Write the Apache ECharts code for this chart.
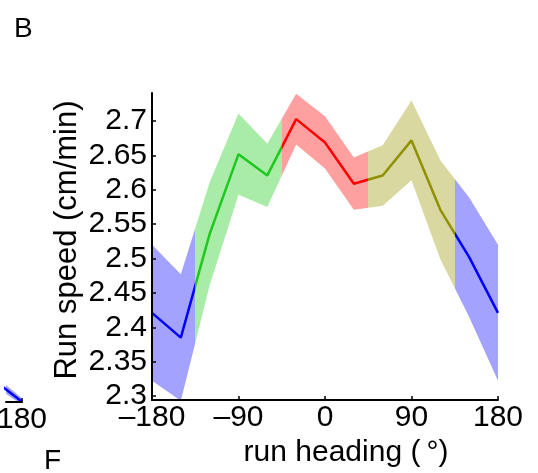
<!DOCTYPE html>
<html>
<head>
<meta charset="utf-8">
<script src="https://cdn.jsdelivr.net/npm/echarts@6/dist/echarts.min.js"></script>
<style>
  html, body { margin: 0; padding: 0; background: #fff; }
  #chart { width: 538px; height: 473px; }
</style>
</head>
<body>
<div id="chart"></div>
<script>
// Run speed versus run heading, binned every 30 degrees (mean and s.e.m.)
const heading = [-180, -150, -120, -90, -60, -30, 0, 30, 60, 90, 120, 150, 180];
const speed   = [2.421, 2.385, 2.536, 2.652, 2.621, 2.703, 2.669, 2.609, 2.621, 2.672, 2.571, 2.502, 2.421];
const sem     = [0.099, 0.092, 0.075, 0.059, 0.046, 0.037, 0.038, 0.038, 0.044, 0.058, 0.072, 0.087, 0.099];

// Heading sectors and their colours
const sectorEdges = [-135, -45, 45, 135];
const lineColors = ['#0000ff', '#1ec81e', '#ff0000', '#909000', '#0000ff'];
const bandColors = ['#a3a3ff', '#a8eca8', '#ffa0a0', '#d8d8a0', '#a3a3ff'];

// Tick labels
const xTicks = [-180, -90, 0, 90, 180];
const yTicks = [2.3, 2.35, 2.4, 2.45, 2.5, 2.55, 2.6, 2.65, 2.7];

// Tail of the neighbouring panel on the left
const nbHeading = [150, 180];
const nbValue   = [2.324, 2.3005];
const nbSem     = [0.007, 0.005];
const nbTicks   = [180];

const FONT = '"Liberation Sans", Arial, Helvetica, sans-serif';

function pieces(colors) {
  return [
    { lt: sectorEdges[0], color: colors[0] },
    { gte: sectorEdges[0], lt: sectorEdges[1], color: colors[1] },
    { gte: sectorEdges[1], lt: sectorEdges[2], color: colors[2] },
    { gte: sectorEdges[2], lt: sectorEdges[3], color: colors[3] },
    { gte: sectorEdges[3], color: colors[4] }
  ];
}

// Rows are [speed, heading] so that stacking acts on the speed dimension;
// encode maps heading to x and speed to y.
const rows = (xs, ys) => xs.map((h, i) => [ys[i], h]);
const meanData  = rows(heading, speed);
const lowerData = rows(heading, speed.map((v, i) => v - sem[i]));
const widthData = rows(heading, sem.map(s => 2 * s));

const nbMean  = rows(nbHeading, nbValue);
const nbLower = rows(nbHeading, nbValue.map((v, i) => v - nbSem[i]));
const nbWidth = rows(nbHeading, nbSem.map(s => 2 * s));

const enc = { x: 1, y: 0 };
const dash = v => (v < 0 ? '\u2013' + Math.abs(v) : String(v));

const axisLine = { show: true, onZero: false, lineStyle: { color: '#000', width: 2 } };
const axisTick = { show: true, inside: true, length: 4, lineStyle: { color: '#000', width: 1.5 } };
const tickFont = { color: '#000', fontFamily: FONT, fontSize: 30 };

const chart = echarts.init(document.getElementById('chart'), null, { renderer: 'canvas' });

chart.setOption({
  animation: false,
  backgroundColor: '#fff',
  grid: [
    { left: 152, right: 40, top: 93, bottom: 71 },
    { left: 0, width: 22, top: 93, bottom: 71 }
  ],
  xAxis: [
    {
      type: 'value', gridIndex: 0, min: -180, max: 180, interval: 90, z: 10,
      axisLine, axisTick,
      splitLine: { show: false },
      axisLabel: Object.assign({ margin: 3, formatter: dash }, tickFont),
      name: 'run heading (\u2009\u00b0)',
      nameLocation: 'middle', nameGap: 34,
      nameTextStyle: { color: '#000', fontFamily: FONT, fontSize: 30, padding: [0, 0, 0, 42] }
    },
    {
      type: 'value', gridIndex: 1, min: 157.2, max: 180, z: 10,
      axisLine,
      axisTick: Object.assign({}, axisTick, { customValues: nbTicks }),
      splitLine: { show: false },
      axisLabel: Object.assign({ margin: 3, customValues: nbTicks, formatter: dash }, tickFont)
    }
  ],
  yAxis: [
    {
      type: 'value', gridIndex: 0, min: 2.294, max: 2.741, z: 10,
      axisLine, axisTick: Object.assign({}, axisTick, { customValues: yTicks }),
      splitLine: { show: false },
      axisLabel: Object.assign({ margin: 5, customValues: yTicks,
                                 formatter: v => String(+(+v).toFixed(2)) }, tickFont)
    },
    {
      type: 'value', gridIndex: 1, min: 2.3, max: 2.75,
      axisLine: { show: false }, axisTick: { show: false }, axisLabel: { show: false },
      splitLine: { show: false }
    }
  ],
  visualMap: [
    { type: 'piecewise', show: false, dimension: 1, seriesIndex: 2, pieces: pieces(lineColors) },
    { type: 'piecewise', show: false, dimension: 1, seriesIndex: 1, pieces: pieces(bandColors) }
  ],
  series: [
    { type: 'line', xAxisIndex: 0, yAxisIndex: 0, stack: 'band', encode: enc, data: lowerData,
      symbol: 'none', lineStyle: { opacity: 0, width: 0 }, silent: true },
    { type: 'line', xAxisIndex: 0, yAxisIndex: 0, stack: 'band', encode: enc, data: widthData,
      symbol: 'none', lineStyle: { opacity: 0, width: 0 }, areaStyle: { opacity: 1 }, silent: true },
    { type: 'line', xAxisIndex: 0, yAxisIndex: 0, encode: enc, data: meanData,
      symbol: 'none', lineStyle: { width: 2.5 }, z: 5 },

    { type: 'line', xAxisIndex: 1, yAxisIndex: 1, stack: 'nb', encode: enc, data: nbLower,
      symbol: 'none', lineStyle: { opacity: 0, width: 0 }, silent: true },
    { type: 'line', xAxisIndex: 1, yAxisIndex: 1, stack: 'nb', encode: enc, data: nbWidth,
      symbol: 'none', lineStyle: { opacity: 0, width: 0 },
      areaStyle: { color: bandColors[0], opacity: 1 }, silent: true },
    { type: 'line', xAxisIndex: 1, yAxisIndex: 1, encode: enc, data: nbMean,
      symbol: 'none', lineStyle: { color: lineColors[0], width: 2.5 }, z: 5 }
  ],
  graphic: [
    { type: 'text', left: 14, top: 15,
      style: { text: 'B', font: '28px ' + FONT, fill: '#000' } },
    { type: 'text', left: 44, top: 447,
      style: { text: 'F', font: '28px ' + FONT, fill: '#000' } },
    { type: 'text', x: 67, y: 240, rotation: Math.PI / 2,
      style: { text: 'Run speed (cm/min)', font: '31px ' + FONT, fill: '#000',
               align: 'center', verticalAlign: 'middle' } }
  ]
});
</script>
</body>
</html>
